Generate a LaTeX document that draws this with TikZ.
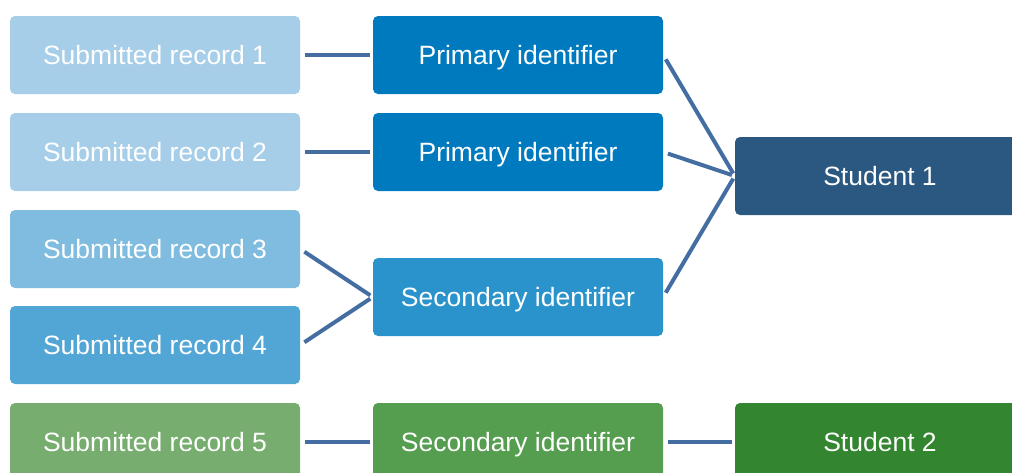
\documentclass[tikz,border=0pt]{standalone}
\usepackage{fontspec}
\setmainfont{Liberation Sans}
\definecolor{recA}{RGB}{166,206,232}
\definecolor{recB}{RGB}{127,188,224}
\definecolor{recC}{RGB}{82,166,214}
\definecolor{recG}{RGB}{119,173,110}
\definecolor{prim}{RGB}{0,122,191}
\definecolor{secb}{RGB}{42,147,204}
\definecolor{secg}{RGB}{85,157,79}
\definecolor{stuA}{RGB}{43,88,128}
\definecolor{stuB}{RGB}{51,133,47}
\definecolor{link}{RGB}{68,110,162}
\begin{document}
\begin{tikzpicture}[x=1pt,y=-1pt,
  box/.style={rectangle,rounded corners=5pt,minimum width=290pt,minimum height=78pt,
    inner sep=0pt,text=white,text height=21pt,text depth=3pt,
    font=\fontsize{26.5}{30}\selectfont},
  wire/.style={draw=link,line width=4pt,shorten <=5pt,shorten >=3pt}]
\useasboundingbox (0,0) rectangle (1012,472);
% source records
\node[box,fill=recA] (r1) at (155,55)  {Submitted record 1};
\node[box,fill=recA] (r2) at (155,152) {Submitted record 2};
\node[box,fill=recB] (r3) at (155,249) {Submitted record 3};
\node[box,fill=recC] (r4) at (155,345) {Submitted record 4};
\node[box,fill=recG] (r5) at (155,442) {Submitted record 5};
% identifiers
\node[box,fill=prim] (p1) at (518,55)  {Primary identifier};
\node[box,fill=prim] (p2) at (518,152) {Primary identifier};
\node[box,fill=secb] (s1) at (518,297) {Secondary identifier};
\node[box,fill=secg] (s2) at (518,442) {Secondary identifier};
% students
\node[box,fill=stuA] (st1) at (880,176) {Student 1};
\node[box,fill=stuB] (st2) at (880,442) {Student 2};
% links
\draw[wire] (r1.east) -- (p1.west);
\draw[wire] (r2.east) -- (p2.west);
\draw[wire] (r3.east) -- (s1.west);
\draw[wire] (r4.east) -- (s1.west);
\draw[wire] (r5.east) -- (s2.west);
\draw[wire] (p1.east) -- (st1.west);
\draw[wire] (p2.east) -- (st1.west);
\draw[wire] (s1.east) -- (st1.west);
\draw[wire] (s2.east) -- (st2.west);
\end{tikzpicture}
\end{document}
